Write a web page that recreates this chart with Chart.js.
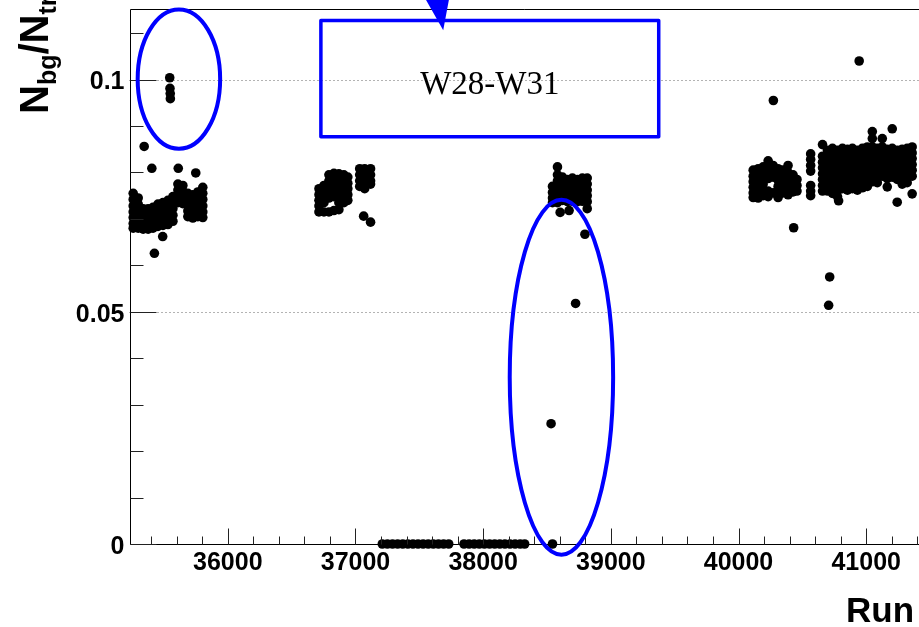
<!DOCTYPE html>
<html>
<head>
<meta charset="utf-8">
<script src="https://cdn.jsdelivr.net/npm/chart.js@4"></script>
<style>
  html, body { margin: 0; padding: 0; background: #fff; overflow: hidden; }
  #wrap { width: 919px; height: 627px; }
</style>
</head>
<body>
<div id="wrap"><canvas id="chart" width="919" height="627"></canvas></div>
<script>
// axis ranges (plot is cut at the right edge of the picture)
const xMin = 35230, xMax = 41376;
const yMin = 0, yMax = 0.1152;
const xMajorTicks = [36000, 37000, 38000, 39000, 40000, 41000];
const yMajorTicks = [0, 0.05, 0.1];
const yMinorTicks = [0.01, 0.02, 0.03, 0.04, 0.06, 0.07, 0.08, 0.09, 0.11];

// each entry: [run, [Nbg/Ntr values around that run]]
const groupA = [
  [35259, [0.0755, 0.0742, 0.0728, 0.0715, 0.0703, 0.0690, 0.0680]],
  [35298, [0.0745, 0.0732, 0.0718, 0.0705, 0.0692, 0.0680]],
  [35337, [0.0722, 0.0710, 0.0697, 0.0685, 0.0678]],
  [35376, [0.0722, 0.0710, 0.0697, 0.0685, 0.0678]],
  [35414, [0.0725, 0.0712, 0.0700, 0.0688, 0.0680]],
  [35453, [0.0732, 0.0720, 0.0707, 0.0695, 0.0684]],
  [35492, [0.0735, 0.0722, 0.0710, 0.0697, 0.0686]],
  [35531, [0.0740, 0.0727, 0.0714, 0.0700, 0.0688]],
  [35570, [0.0748, 0.0735, 0.0722, 0.0708, 0.0695]],
  [35609, [0.0775, 0.0762, 0.0748, 0.0735]],
  [35648, [0.0772, 0.0760, 0.0746, 0.0733]],
  [35687, [0.0755, 0.0742, 0.0730, 0.0717, 0.0705]],
  [35726, [0.0752, 0.0740, 0.0727, 0.0714, 0.0702]],
  [35765, [0.0758, 0.0745, 0.0732, 0.0718, 0.0705]],
  [35804, [0.0768, 0.0755, 0.0742, 0.0728, 0.0715, 0.0703]]
];

const groupB = [
  [36714, [0.0765, 0.0752, 0.0740, 0.0728, 0.0715]],
  [36753, [0.0772, 0.0760, 0.0748, 0.0735, 0.0715]],
  [36792, [0.0795, 0.0782, 0.0770, 0.0757, 0.0745, 0.0715]],
  [36831, [0.0798, 0.0785, 0.0772, 0.0760, 0.0748, 0.0718]],
  [36870, [0.0797, 0.0785, 0.0772, 0.0760, 0.0748, 0.0735, 0.0720]],
  [36909, [0.0795, 0.0782, 0.0770, 0.0757, 0.0745, 0.0735]],
  [36940, [0.0790, 0.0777, 0.0765, 0.0752, 0.0740]],
  [37033, [0.0808, 0.0795, 0.0782, 0.0770]],
  [37072, [0.0808, 0.0795, 0.0782, 0.0770, 0.0765]],
  [37118, [0.0808, 0.0795, 0.0782, 0.0775]]
];

const groupC = [
  [38543, [0.0770, 0.0757, 0.0745, 0.0735]],
  [38582, [0.0812, 0.0795, 0.0782, 0.0770, 0.0757, 0.0745, 0.0735]],
  [38621, [0.0790, 0.0777, 0.0765, 0.0752, 0.0740]],
  [38660, [0.0785, 0.0772, 0.0760, 0.0748, 0.0737]],
  [38699, [0.0788, 0.0775, 0.0762, 0.0750, 0.0738]],
  [38738, [0.0785, 0.0772, 0.0760, 0.0748, 0.0737]],
  [38777, [0.0788, 0.0775, 0.0762, 0.0750, 0.0738]],
  [38815, [0.0788, 0.0775, 0.0762, 0.0750, 0.0737, 0.0722]]
];

const groupD = [
  [40115, [0.0805, 0.0792, 0.0780, 0.0768, 0.0756, 0.0746]],
  [40154, [0.0808, 0.0795, 0.0783, 0.0770, 0.0758, 0.0745]],
  [40193, [0.0812, 0.0800, 0.0787, 0.0775, 0.0762, 0.0750]],
  [40232, [0.0825, 0.0812, 0.0800, 0.0787, 0.0760, 0.0748]],
  [40271, [0.0815, 0.0803, 0.0790, 0.0756]],
  [40310, [0.0808, 0.0795, 0.0783, 0.0770, 0.0758, 0.0746]],
  [40349, [0.0805, 0.0792, 0.0780, 0.0768, 0.0756]],
  [40388, [0.0815, 0.0800, 0.0787, 0.0775, 0.0762, 0.0752]],
  [40427, [0.0795, 0.0783, 0.0770, 0.0758]],
  [40458, [0.0785, 0.0772, 0.0760]],
  [40565, [0.0840, 0.0828, 0.0815, 0.0803, 0.0772, 0.0760, 0.0750]]
];

const groupE = [
  [40658, [0.0860, 0.0835, 0.0822, 0.0810, 0.0797, 0.0785, 0.0772, 0.0760]],
  [40697, [0.0848, 0.0835, 0.0822, 0.0810, 0.0797, 0.0785, 0.0772, 0.0760]],
  [40736, [0.0852, 0.0840, 0.0827, 0.0815, 0.0802, 0.0790, 0.0777, 0.0765, 0.0755]],
  [40775, [0.0848, 0.0835, 0.0822, 0.0810, 0.0797, 0.0785, 0.0772, 0.0760, 0.0748]],
  [40814, [0.0852, 0.0840, 0.0827, 0.0815, 0.0802, 0.0790, 0.0777, 0.0765]],
  [40853, [0.0850, 0.0838, 0.0825, 0.0812, 0.0800, 0.0787, 0.0775, 0.0762]],
  [40892, [0.0852, 0.0840, 0.0827, 0.0815, 0.0802, 0.0790, 0.0777, 0.0765]],
  [40931, [0.0848, 0.0835, 0.0822, 0.0810, 0.0797, 0.0785, 0.0772, 0.0762]],
  [40970, [0.0852, 0.0840, 0.0827, 0.0815, 0.0802, 0.0790, 0.0777, 0.0767]],
  [41009, [0.0855, 0.0842, 0.0830, 0.0817, 0.0805, 0.0792, 0.0780, 0.0770]],
  [41048, [0.0888, 0.0873, 0.0855, 0.0842, 0.0830, 0.0817, 0.0805, 0.0792, 0.0780]],
  [41087, [0.0852, 0.0840, 0.0827, 0.0815, 0.0802, 0.0790, 0.0778]],
  [41126, [0.0873, 0.0855, 0.0842, 0.0830, 0.0817, 0.0805, 0.0792]],
  [41165, [0.0850, 0.0838, 0.0825, 0.0812, 0.0800, 0.0787, 0.0769]],
  [41204, [0.0894, 0.0852, 0.0840, 0.0827, 0.0815, 0.0802, 0.0790]],
  [41243, [0.0848, 0.0835, 0.0822, 0.0810, 0.0797, 0.0785, 0.0736]],
  [41282, [0.0850, 0.0838, 0.0825, 0.0812, 0.0800, 0.0787, 0.0775]],
  [41321, [0.0852, 0.0840, 0.0827, 0.0815, 0.0802, 0.0790, 0.0778]],
  [41360, [0.0855, 0.0842, 0.0830, 0.0817, 0.0805, 0.0792, 0.0754]]
];

// isolated runs: [run, value]
const singles = [
  [35345, 0.0856], [35405, 0.0809], [35612, 0.0809], [35749, 0.0799],
  [35490, 0.0662], [35425, 0.0626],
  [35545, 0.1004], [35547, 0.0981], [35549, 0.0970], [35550, 0.0959],
  [37064, 0.0706], [37118, 0.0693],
  [38603, 0.0714], [38673, 0.0718], [38797, 0.0667], [38724, 0.0518],
  [38532, 0.0259], [38543, 0],
  [40273, 0.0955], [40432, 0.0681], [40714, 0.0575], [40706, 0.0514],
  [40945, 0.1040], [40784, 0.0739]
];

// runs with Nbg/Ntr = 0
const zeroRuns = [
  37210, 37250, 37290, 37330, 37370, 37410, 37450, 37490, 37530, 37570,
  37610, 37650, 37690, 37730,
  37850, 37890, 37930, 37970, 38010, 38050, 38090, 38130, 38170, 38210,
  38250, 38290, 38325
];

// annotations, in data units
const ellipses = [
  { run: 35617, value: 0.1001, dRun: 323, dValue: 0.0150 },
  { run: 38613, value: 0.0359, dRun: 405, dValue: 0.0382 }
];
const labelBox = { run0: 36729, run1: 39375, v0: 0.0877, v1: 0.1127, text: "W28-W31", textValue: 0.0970 };
const arrowHead = [[37533, 0.1181], [37735, 0.1177], [37687, 0.1106]];

const points = [];
for (const group of [groupA, groupB, groupC, groupD, groupE]) {
  for (const [run, vals] of group) {
    for (const v of vals) points.push({ x: run, y: v });
  }
}
for (const [run, v] of singles) points.push({ x: run, y: v });
for (const run of zeroRuns) points.push({ x: run, y: 0 });

const BLUE = "#0000ff";
const tickFont = { family: "'Liberation Sans', Arial, sans-serif", size: 25, weight: "bold" };

const rootStyle = {
  id: "rootStyle",
  beforeDatasetsDraw(chart) {
    const { ctx, chartArea: a, scales: { y } } = chart;
    ctx.save();
    ctx.strokeStyle = "#666";
    ctx.lineWidth = 1;
    ctx.setLineDash([1, 3]);
    for (const v of yMajorTicks) {
      if (v === 0) continue;
      const py = Math.round(y.getPixelForValue(v)) + 0.5;
      ctx.beginPath();
      ctx.moveTo(a.left, py);
      ctx.lineTo(a.right + 5, py);
      ctx.stroke();
    }
    ctx.restore();
  },
  afterDatasetsDraw(chart) {
    const { ctx, chartArea: a, scales: { x, y } } = chart;
    ctx.save();

    // frame
    ctx.strokeStyle = "#000";
    ctx.lineWidth = 1;
    const L = Math.round(a.left) + 0.5, T = Math.round(a.top) + 0.5, B = Math.round(a.bottom) + 0.5;
    ctx.beginPath();
    ctx.moveTo(a.right + 5, T); ctx.lineTo(L, T); ctx.lineTo(L, B); ctx.lineTo(a.right + 5, B);
    ctx.stroke();

    // x ticks
    ctx.strokeStyle = "#222";
    for (let r = 35400; r <= 41400; r += 200) {
      const px = Math.round(x.getPixelForValue(r)) + 0.5;
      const len = r % 1000 === 0 ? 16 : 8;
      ctx.beginPath(); ctx.moveTo(px, B); ctx.lineTo(px, B - len); ctx.stroke();
    }
    // y ticks
    for (const v of yMajorTicks) {
      const py = Math.round(y.getPixelForValue(v)) + 0.5;
      ctx.beginPath(); ctx.moveTo(L, py); ctx.lineTo(L + 26, py); ctx.stroke();
    }
    for (const v of yMinorTicks) {
      const py = Math.round(y.getPixelForValue(v)) + 0.5;
      ctx.beginPath(); ctx.moveTo(L, py); ctx.lineTo(L + 13, py); ctx.stroke();
    }

    // blue ellipses
    ctx.strokeStyle = BLUE;
    ctx.lineWidth = 4;
    for (const e of ellipses) {
      const cx = x.getPixelForValue(e.run), cy = y.getPixelForValue(e.value);
      const rx = x.getPixelForValue(e.run + e.dRun) - cx;
      const ry = cy - y.getPixelForValue(e.value + e.dValue);
      ctx.beginPath();
      ctx.ellipse(cx, cy, rx, ry, 0, 0, Math.PI * 2);
      ctx.stroke();
    }

    // label box
    const bx0 = x.getPixelForValue(labelBox.run0), bx1 = x.getPixelForValue(labelBox.run1);
    const by0 = y.getPixelForValue(labelBox.v1), by1 = y.getPixelForValue(labelBox.v0);
    ctx.lineWidth = 3.5;
    ctx.lineJoin = "round";
    ctx.strokeRect(bx0, by0, bx1 - bx0, by1 - by0);
    ctx.fillStyle = "#000";
    ctx.font = "33px 'Liberation Serif', 'Times New Roman', serif";
    ctx.textAlign = "center";
    ctx.textBaseline = "alphabetic";
    ctx.fillText(labelBox.text, (bx0 + bx1) / 2, y.getPixelForValue(labelBox.textValue));

    // arrow head
    ctx.fillStyle = BLUE;
    ctx.beginPath();
    arrowHead.forEach(([r, v], i) => {
      const px = x.getPixelForValue(r), py = y.getPixelForValue(v);
      if (i === 0) ctx.moveTo(px, py); else ctx.lineTo(px, py);
    });
    ctx.closePath();
    ctx.fill();

    // axis titles
    ctx.fillStyle = "#000";
    ctx.textAlign = "left";
    ctx.textBaseline = "alphabetic";
    ctx.font = "bold 35px 'Liberation Sans', Arial, sans-serif";
    ctx.fillText("Run number", 846, 622);

    ctx.translate(48, 114);
    ctx.rotate(-Math.PI / 2);
    const big = "bold 40px 'Liberation Sans', Arial, sans-serif";
    const small = "bold 25px 'Liberation Sans', Arial, sans-serif";
    let cur = 0;
    for (const [txt, sub] of [["N", false], ["bg", true], ["/", false], ["N", false], ["tr", true]]) {
      ctx.font = sub ? small : big;
      ctx.fillText(txt, cur, sub ? 8 : 0);
      cur += ctx.measureText(txt).width;
    }
    ctx.restore();
  }
};

new Chart(document.getElementById("chart").getContext("2d"), {
  type: "scatter",
  data: {
    datasets: [{
      data: points,
      backgroundColor: "#000",
      borderWidth: 0,
      pointRadius: 4.8,
      pointHoverRadius: 4.8,
      clip: false
    }]
  },
  options: {
    responsive: false,
    animation: false,
    events: [],
    layout: { padding: { top: 9, left: 0, right: 0, bottom: 0 } },
    plugins: { legend: { display: false }, tooltip: { enabled: false } },
    scales: {
      x: {
        type: "linear",
        min: xMin,
        max: xMax,
        afterBuildTicks: s => { s.ticks = xMajorTicks.map(v => ({ value: v })); },
        afterFit: s => { s.height = 83; s.paddingLeft = 0; s.paddingRight = 0; },
        grid: { display: false, drawTicks: false },
        border: { display: false },
        ticks: { font: tickFont, color: "#000", padding: 4, maxRotation: 0, autoSkip: false, callback: v => String(v) }
      },
      y: {
        type: "linear",
        min: yMin,
        max: yMax,
        afterBuildTicks: s => { s.ticks = yMajorTicks.map(v => ({ value: v })); },
        afterFit: s => { s.width = 129.5; s.paddingTop = 0; s.paddingBottom = 0; },
        grid: { display: false, drawTicks: false },
        border: { display: false },
        ticks: { font: tickFont, color: "#000", padding: 5, labelOffset: 3, callback: v => String(v) }
      }
    }
  },
  plugins: [rootStyle]
});
</script>
</body>
</html>
